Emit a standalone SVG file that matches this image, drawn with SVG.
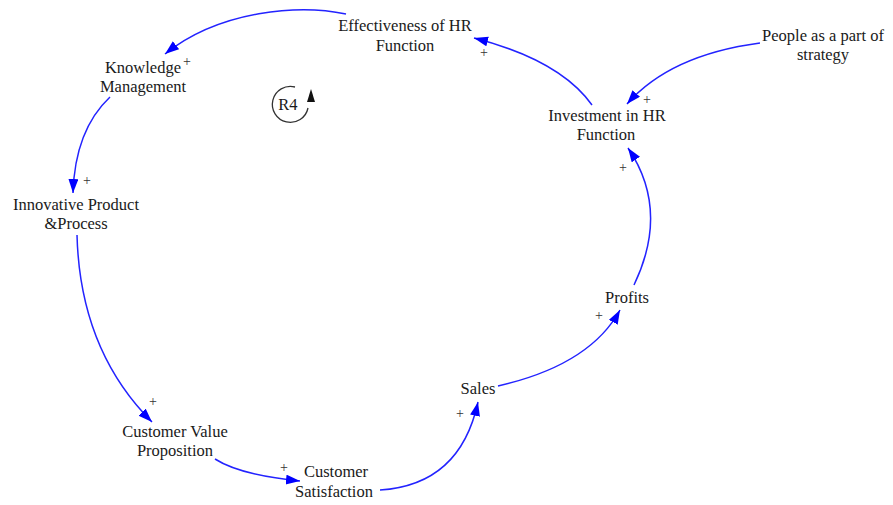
<svg xmlns="http://www.w3.org/2000/svg" width="893" height="505" viewBox="0 0 893 505">
<style>
text{font-family:"Liberation Serif","Times New Roman",serif;font-size:16.5px;fill:#1a1a1a;text-anchor:middle}
.lk{fill:none;stroke:#2323ff;stroke-width:1.5}
.pl{font-size:14px;fill:#333}
</style>
<defs>
<marker id="ah" markerUnits="userSpaceOnUse" markerWidth="16" markerHeight="12" refX="14" refY="5" orient="auto">
<path d="M0,0 L14,5 L0,10 z" fill="#0000ff"/>
</marker>
</defs>
<rect width="893" height="505" fill="#fff"/>
<g id="connectors">
<path class="lk" marker-end="url(#ah)" d="M592,105 Q560,60 474,38"/>
<path class="lk" marker-end="url(#ah)" d="M346,14 C300,4 220,10 165,54"/>
<path class="lk" marker-end="url(#ah)" d="M110,97 Q75,130 73,193"/>
<path class="lk" marker-end="url(#ah)" d="M77,235 Q80,350 152,422"/>
<path class="lk" marker-end="url(#ah)" d="M215,459 Q240,475 300,481"/>
<path class="lk" marker-end="url(#ah)" d="M380,490 Q460,485 478,402"/>
<path class="lk" marker-end="url(#ah)" d="M498,386 Q590,365 620,310"/>
<path class="lk" marker-end="url(#ah)" d="M634,285 Q670,210 628,148"/>
<path class="lk" marker-end="url(#ah)" d="M760,43 Q670,55 627,104"/>
</g>
<g id="polarities">
<text class="pl" x="484" y="57">+</text>
<text class="pl" x="187" y="66">+</text>
<text class="pl" x="87" y="185">+</text>
<text class="pl" x="153" y="406">+</text>
<text class="pl" x="284" y="472">+</text>
<text class="pl" x="460" y="418">+</text>
<text class="pl" x="599" y="320">+</text>
<text class="pl" x="623" y="172">+</text>
<text class="pl" x="647" y="104">+</text>
</g>
<g id="loop-R4">
<path d="M295,87 A18,18 0 1 0 308,108" fill="none" stroke="#333" stroke-width="1.3"/>
<polygon points="311,89 307,102 315,102" fill="#111"/>
<text x="288" y="110">R4</text>
</g>
<g id="effectiveness"><text x="405" y="31">Effectiveness of HR</text><text x="405" y="51">Function</text></g>
<g id="knowledge"><text x="143" y="73">Knowledge</text><text x="143" y="92">Management</text></g>
<g id="innovative"><text x="76" y="210">Innovative Product</text><text x="76" y="229">&amp;Process</text></g>
<g id="cvp"><text x="175" y="437">Customer Value</text><text x="175" y="456">Proposition</text></g>
<g id="custsat"><text x="336" y="477">Customer</text><text x="334" y="497">Satisfaction</text></g>
<g id="sales"><text x="478" y="394">Sales</text></g>
<g id="profits"><text x="627" y="303">Profits</text></g>
<g id="investment"><text x="607" y="121">Investment in HR</text><text x="606" y="140">Function</text></g>
<g id="people"><text x="823" y="41">People as a part of</text><text x="823" y="60">strategy</text></g>
</svg>
